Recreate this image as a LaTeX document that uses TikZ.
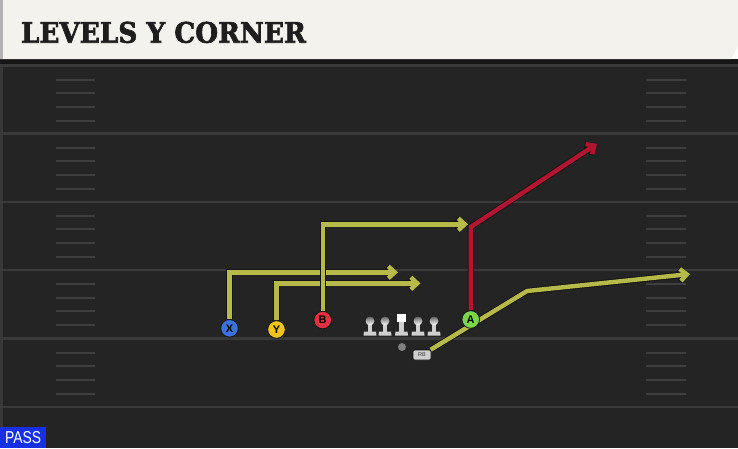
\documentclass[tikz,border=0pt]{standalone}
\usepackage{fontspec}
\usepackage{graphicx}
\usetikzlibrary{arrows.meta}
\newfontfamily\titlefont{DejaVu Serif Bold}[FakeBold=2.2]
\newfontfamily\labfont{Liberation Sans}
\definecolor{cream}{HTML}{F4F2EC}
\definecolor{titlecol}{HTML}{1E1E1E}
\definecolor{fieldbg}{HTML}{242424}
\definecolor{bandcol}{HTML}{161616}
\definecolor{yardcol}{HTML}{3A3A3A}
\definecolor{hashcol}{HTML}{3E3E3E}
\definecolor{olive}{HTML}{B7B948}
\definecolor{routered}{HTML}{B3142F}
\definecolor{outl}{HTML}{141414}
\definecolor{xblue}{HTML}{3B73D9}
\definecolor{yyellow}{HTML}{F2C417}
\definecolor{bred}{HTML}{E3323F}
\definecolor{agreen}{HTML}{7AD64B}
\definecolor{lmgrey}{HTML}{CFCFCF}
\definecolor{passblue}{HTML}{1530E6}
\pgfdeclarelayer{field}
\pgfdeclarelayer{routes}
\pgfsetlayers{field,routes,main}
\tikzset{
  route/.style={line width=4.4pt, draw=#1, line join=miter,
    -{Straight Barb[length=6.5pt,width=12pt]},
    preaction={draw=outl, line width=6.2pt, line join=miter,
      -{Straight Barb[length=6.5pt,width=12pt]}}},
  player/.style={circle, fill=#1, draw=outl, line width=0.8pt, minimum size=17.6pt,
    inner sep=0pt, font=\labfont\bfseries\fontsize{11}{11}\selectfont, text=black},
  yard/.style={draw=yardcol, line width=2.4pt},
  hashmark/.style={draw=hashcol, line width=2pt},
  rbbox/.style={rectangle, rounded corners=2pt, fill=lmgrey, draw=outl, line width=0.6pt,
    minimum width=18pt, minimum height=10pt, inner sep=0pt,
    font=\labfont\fontsize{5.5}{5.5}\selectfont, text=black!80},
  lineman/.pic={
    \fill[lmgrey] (-6.5,14.5) -- (6.5,14.5) -- (6,10.5) -- (-6,10.5) -- cycle;
    \fill[lmgrey] (-2.2,2) rectangle (2.2,10.5);
    \shade[top color=gray!80!black, bottom color=white] (0,0) circle (4.4pt);
  },
}
\begin{document}
\begin{tikzpicture}[x=1pt,y=-1pt]
\useasboundingbox (0,0) rectangle (738,448);
\begin{pgfonlayer}{field}
  \fill[fieldbg] (0,59) rectangle (738,448);
  \fill[bandcol] (0,59) rectangle (738,64);
  \fill[black!78] (0,64) rectangle (2.5,448);
  \foreach \yy in {65.5,133.5,201.7,270,338.5,407}
    \draw[yard] (0,\yy) -- (738,\yy);
  \foreach \yy in {65.5,133.5,201.7,270,338.5}
    \foreach \dd in {14,27.5,41.3,55.3} {
      \draw[hashmark] (56,\yy+\dd) -- (95,\yy+\dd);
      \draw[hashmark] (646,\yy+\dd) -- (686,\yy+\dd);
    }
  \fill[cream] (0,0) -- (738,0) -- (738,47) -- (731,59) -- (0,59) -- cycle;
  \fill[black!30] (0,0) rectangle (3,59);
\end{pgfonlayer}

\node[anchor=base west, inner sep=0pt, text=titlecol] (title) at (20.7,42.7)
  {\resizebox{285pt}{21pt}{\titlefont LEVELS Y CORNER}};

% players
\node[player=xblue] (X) at (229.5,328.3) {X};
\node[player=yyellow] (Y) at (276.5,329.5) {Y};
\node[player=bred] (B) at (322.7,320) {B};
\node[player=agreen] (A) at (470.7,319.5) {A};

% line
\pic (lt) at (370,321) {lineman};
\pic (lg) at (385,321) {lineman};
\pic (rg) at (418,321) {lineman};
\pic (rt) at (434,321) {lineman};
\node[rectangle, fill=white, minimum width=9pt, minimum height=8pt, inner sep=0pt] (C) at (401.5,318) {};
\fill[lmgrey] (399.3,322) rectangle (403.7,331.5);
\fill[lmgrey] (395,335.5) -- (408,335.5) -- (407.5,331.5) -- (395.5,331.5) -- cycle;

\node[circle, fill=gray, minimum size=8pt, inner sep=0pt] (QB) at (402,347) {};
\node[rbbox] (RB) at (422,355) {RB};

\coordinate (xe) at (398,272.3);
\coordinate (ye) at (420.5,283.3);
\coordinate (be) at (468,224.3);
\coordinate (abrk) at (470.7,227);
\coordinate (ae) at (597,143.8);
\coordinate (rbbrk) at (527,291);
\coordinate (rbe) at (690,274);

\begin{pgfonlayer}{routes}
  \draw[route=olive] (RB) -- (rbbrk) -- (rbe);
  \draw[route=olive] (X.north) |- (xe);
  \draw[route=olive] (Y.north) |- (ye);
  \draw[route=olive] (B.north) |- (be);
  \draw[route=routered] (A.north) -- (abrk) -- (ae);
\end{pgfonlayer}

\node[fill=passblue, anchor=south west, minimum width=46pt, minimum height=21pt, inner sep=0pt,
  text=white] (pass) at (0,448) {\resizebox{36pt}{12pt}{\labfont PASS}};
\end{tikzpicture}
\end{document}
